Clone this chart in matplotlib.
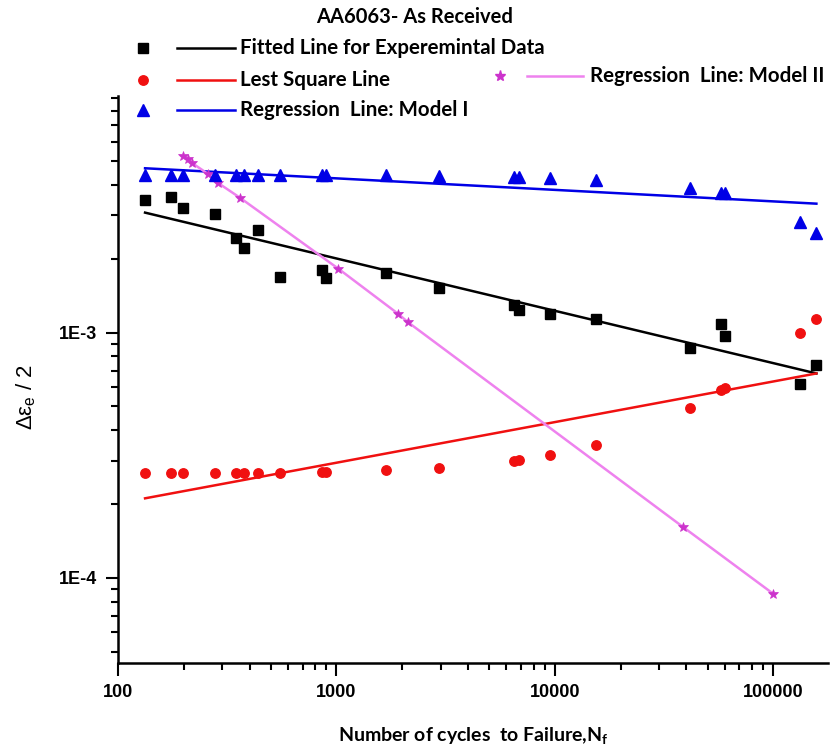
import numpy as np
import matplotlib
matplotlib.use("Agg")
import matplotlib.pyplot as plt
from matplotlib.lines import Line2D
from matplotlib.ticker import LogLocator, FuncFormatter, NullFormatter

plt.rcParams['mathtext.fontset'] = 'custom'
plt.rcParams['mathtext.rm'] = 'Liberation Sans'
plt.rcParams['mathtext.bf'] = 'Lato:bold'

# cycles to failure (shared by the three measured series)
cycles = [133, 175, 199, 279, 348, 378, 439, 553, 862, 900, 1679, 2937,
          6486, 6839, 9486, 15420, 41600, 57700, 60250, 133000, 157500]

# experimental data (black squares)
exp_strain = [3.48e-3, 3.58e-3, 3.21e-3, 3.05e-3, 2.43e-3, 2.22e-3, 2.62e-3,
              1.69e-3, 1.80e-3, 1.67e-3, 1.74e-3, 1.52e-3, 1.29e-3, 1.24e-3,
              1.19e-3, 1.14e-3, 8.61e-4, 1.08e-3, 9.72e-4, 6.15e-4, 7.34e-4]

# least square (red circles)
lsq_strain = [2.67e-4, 2.67e-4, 2.67e-4, 2.67e-4, 2.67e-4, 2.67e-4, 2.67e-4,
              2.67e-4, 2.70e-4, 2.70e-4, 2.75e-4, 2.80e-4, 2.99e-4, 3.02e-4,
              3.16e-4, 3.47e-4, 4.91e-4, 5.81e-4, 5.92e-4, 9.91e-4, 1.13e-3]

# model I (blue triangles)
m1_strain = [4.38e-3, 4.38e-3, 4.38e-3, 4.38e-3, 4.40e-3, 4.40e-3, 4.40e-3,
             4.40e-3, 4.40e-3, 4.40e-3, 4.38e-3, 4.34e-3, 4.31e-3, 4.31e-3,
             4.27e-3, 4.19e-3, 3.88e-3, 3.71e-3, 3.71e-3, 2.83e-3, 2.55e-3]

# model II (stars on the line)
m2_cycles = [199, 210, 218, 259, 287, 362, 1020, 1920, 2130, 38700, 100000]
m2_strain = [5.24e-3, 5.09e-3, 4.91e-3, 4.42e-3, 4.07e-3, 3.54e-3, 1.82e-3,
             1.19e-3, 1.10e-3, 1.61e-4, 8.61e-5]

# fitted straight lines (end points)
fit_cycles = [133, 157500]
fit_exp = [3.08e-3, 6.81e-4]
fit_lsq = [2.11e-4, 6.81e-4]
fit_m1 = [4.67e-3, 3.35e-3]

BLUE = '#0000E6'
RED = '#F01010'
PINK = '#EE82EE'
STAR = '#CC33CC'

fig = plt.figure(figsize=(8.3, 7.52), dpi=100)
ax = fig.add_axes([118 / 830, 1 - 663 / 752, 710 / 830, 567 / 752])

ax.plot(fit_cycles, fit_m1, color=BLUE, lw=1.8)
ax.plot(fit_cycles, fit_exp, color='black', lw=1.8)
ax.plot(fit_cycles, fit_lsq, color=RED, lw=1.8)
ax.plot(m2_cycles, m2_strain, color=PINK, lw=1.8, marker='*', ms=7,
        mfc=STAR, mec=STAR, mew=0.5)

ax.plot(cycles, m1_strain, ls='none', marker='^', ms=8, color=BLUE)
ax.plot(cycles, exp_strain, ls='none', marker='s', ms=6.8, color='black')
ax.plot(cycles, lsq_strain, ls='none', marker='o', ms=6.8, color=RED)

ax.set_xscale('log')
ax.set_yscale('log')
ax.set_xlim(100, 178000)
ax.set_ylim(4.5e-5, 9.2e-3)

for s in ['top', 'right']:
    ax.spines[s].set_visible(False)
for s in ['left', 'bottom']:
    ax.spines[s].set_linewidth(1.8)

ax.xaxis.set_major_locator(LogLocator(base=10))
ax.xaxis.set_minor_locator(LogLocator(base=10, subs=np.arange(2, 10)))
ax.yaxis.set_major_locator(LogLocator(base=10))
ax.yaxis.set_minor_locator(LogLocator(base=10, subs=np.arange(2, 10)))
ax.xaxis.set_major_formatter(FuncFormatter(lambda v, p: f"{int(round(v))}"))
ax.yaxis.set_major_formatter(FuncFormatter(lambda v, p: f"1E{int(round(np.log10(v)))}"))
ax.xaxis.set_minor_formatter(NullFormatter())
ax.yaxis.set_minor_formatter(NullFormatter())
ax.tick_params(which='major', direction='out', length=9, width=1.5, pad=6)
ax.tick_params(which='minor', direction='out', length=5, width=1.5)
for lab in ax.get_xticklabels() + ax.get_yticklabels():
    lab.set_fontfamily('Liberation Sans')
    lab.set_fontweight('bold')
    lab.set_fontsize(13)

ax.set_xlabel('Number of cycles  to Failure,N$_\\mathbf{f}$', fontfamily='Lato',
              fontweight='bold', fontsize=14, labelpad=18)
ax.set_ylabel('Δε$_\\mathrm{e}$ / 2', fontfamily='Liberation Sans', fontsize=16)
ax.yaxis.set_label_coords(-0.113, 0.47)

fig.text(0.5, 1 - 17 / 752, 'AA6063- As Received', ha='center', va='center',
         fontfamily='Lato', fontweight='bold', fontsize=14.5)

# legend drawn in figure pixels
def fpx(x, y):
    return x / 830, 1 - y / 752

# marker x, y, marker, marker colour, line colour, text, line start/end, text offset
legend_rows = [
    (143, 48, 's', 'black', 'black', 'Fitted Line for Experemintal Data', 34, 92, 97),
    (143, 80, 'o', RED, RED, 'Lest Square Line', 34, 92, 97),
    (143, 110, '^', BLUE, BLUE, 'Regression  Line: Model I', 34, 92, 97),
    (500, 76, '*', STAR, PINK, 'Regression  Line: Model II', 27, 83, 90),
]
for mx, my, mk, mc, lc, txt, la, lb, tx in legend_rows:
    x0, y0 = fpx(mx, my)
    ms = {'s': 6.8, 'o': 6.8, '^': 8, '*': 8}[mk]
    fig.add_artist(Line2D([x0], [y0], marker=mk, ms=ms, color=mc, ls='none',
                          transform=fig.transFigure))
    xa, _ = fpx(mx + la, my)
    xb, _ = fpx(mx + lb, my)
    fig.add_artist(Line2D([xa, xb], [y0, y0], color=lc, lw=1.8,
                          transform=fig.transFigure))
    xt, _ = fpx(mx + tx, my)
    fig.text(xt, y0, txt, ha='left', va='center', fontfamily='Lato',
             fontweight='bold', fontsize=14.8)

fig.savefig('out.png', dpi=100)
